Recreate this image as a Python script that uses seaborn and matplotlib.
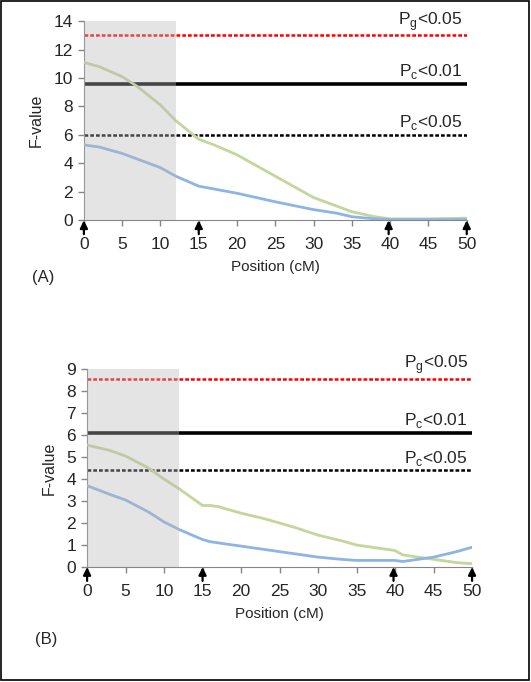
import numpy as np
import pandas as pd
import seaborn as sns
import matplotlib.pyplot as plt
from matplotlib.patches import Rectangle

# F-value profiles (position in cM)
pos_a = [0, 2, 5, 7, 10, 12, 15, 17, 20, 25, 30, 33, 35, 38, 40, 45, 50]
green_a = [11.1, 10.8, 10.1, 9.4, 8.1, 7.0, 5.7, 5.3, 4.6, 3.1, 1.6, 1.0, 0.6, 0.25, 0.1, 0.1, 0.15]
blue_a = [5.3, 5.15, 4.7, 4.3, 3.7, 3.1, 2.4, 2.2, 1.9, 1.3, 0.75, 0.5, 0.25, 0.1, 0.05, 0.05, 0.05]

pos_b = [0, 3, 5, 8, 10, 12, 15, 16, 17, 20, 23, 25, 27, 30, 33, 35, 38, 40, 41, 45, 48, 50]
green_b = [5.55, 5.3, 5.05, 4.5, 4.0, 3.55, 2.8, 2.8, 2.75, 2.45, 2.2, 2.0, 1.8, 1.45,
           1.2, 1.0, 0.85, 0.75, 0.55, 0.35, 0.2, 0.15]
blue_b = [3.7, 3.3, 3.05, 2.5, 2.05, 1.7, 1.25, 1.15, 1.1, 0.95, 0.8, 0.7, 0.6, 0.45,
          0.35, 0.3, 0.3, 0.3, 0.25, 0.45, 0.7, 0.9]

# thresholds: genome-wide 0.05, chromosome 0.01, chromosome 0.05
thr_a = [13.0, 9.6, 6.0]
thr_b = [8.55, 6.1, 4.4]
thr_labels = [r'P$_\mathregular{g}$<0.05', r'P$_\mathregular{c}$<0.01', r'P$_\mathregular{c}$<0.05']

arrows = [0, 15, 39.8, 50]
shade = (0, 12)

sns.set_style('ticks')
plt.rcParams['font.family'] = ['Liberation Sans', 'DejaVu Sans']
plt.rcParams['font.size'] = 10

fig = plt.figure(figsize=(5.31, 6.82), dpi=100)
ax_a = fig.add_axes([0.158, 0.677, 0.721, 0.292])
ax_b = fig.add_axes([0.164, 0.1686, 0.725, 0.290])

green = '#c3d69b'
blue = '#8eb4e3'
axis_col = '#868686'


def panel(ax, pos, green_v, blue_v, thr, ymax, yticks, tag, tag_y):
    df = pd.DataFrame({'pos': pos, 'green': green_v, 'blue': blue_v})
    sns.lineplot(data=df, x='pos', y='green', ax=ax, color=green, lw=2, zorder=3)
    sns.lineplot(data=df, x='pos', y='blue', ax=ax, color=blue, lw=2, zorder=3)
    ax.axhline(thr[0], color='#ff0000', lw=1.8, ls=(0, (1.5, 0.8)), zorder=2)
    ax.axhline(thr[1], color='black', lw=2.6, zorder=2)
    ax.axhline(thr[2], color='black', lw=1.8, ls=(0, (1.5, 0.8)), zorder=2)
    for v, lab in zip(thr, thr_labels):
        ax.annotate(lab, xy=(50, v), xytext=(-3, 2), textcoords='offset points',
                    ha='right', va='bottom', fontsize=12.5)
    ax.axvspan(*shade, color='#b8b8b8', alpha=0.38, lw=0, zorder=4)
    ax.set_xlim(0, 50)
    ax.set_ylim(0, ymax)
    ax.set_xticks(range(0, 51, 5))
    ax.set_yticks(yticks)
    ax.tick_params(labelsize=12.5, color=axis_col, length=4, width=1, pad=4)
    ax.tick_params(axis='x', pad=8)
    for s in ['top', 'right']:
        ax.spines[s].set_visible(False)
    for s in ['left', 'bottom']:
        ax.spines[s].set_color(axis_col)
    ax.set_xlabel('Position (cM)', fontsize=11, labelpad=6)
    ax.set_ylabel('F-value', fontsize=11.5, labelpad=7)
    for x in arrows:
        ax.annotate('', xy=(x, 0), xycoords=('data', 'axes fraction'),
                    xytext=(x, -10), textcoords=('data', 'offset points'),
                    arrowprops=dict(arrowstyle='-|>,head_length=0.45,head_width=0.22',
                                    color='black', lw=1.6, shrinkA=0, shrinkB=0),
                    annotation_clip=False)
    ax.text(-0.135, tag_y, tag, transform=ax.transAxes, fontsize=12, ha='left', va='center')


panel(ax_a, pos_a, green_a, blue_a, thr_a, 14, range(0, 15, 2), '(A)', -0.286)
panel(ax_b, pos_b, green_b, blue_b, thr_b, 9, range(0, 10, 1), '(B)', -0.364)

fig.patches.append(Rectangle((0.001, 0.003), 0.996, 0.995, transform=fig.transFigure,
                             fill=False, edgecolor='black', lw=1.2))

fig.savefig('out.png', dpi=100)
